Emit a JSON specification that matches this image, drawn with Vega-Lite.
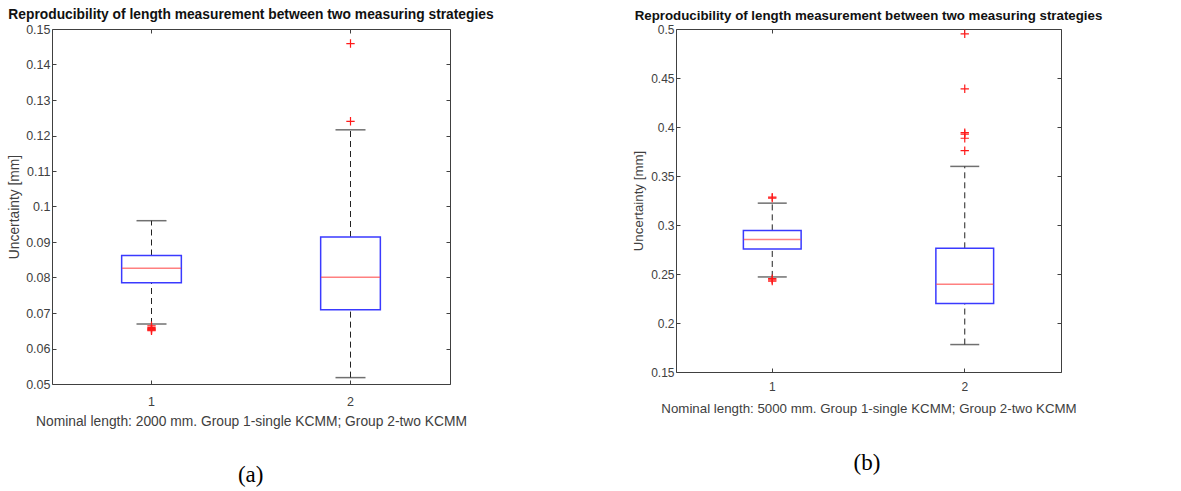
{
  "$schema": "https://vega.github.io/schema/vega-lite/v6.json",
  "background": "white",
  "padding": {"left": 7, "top": 7, "right": 5, "bottom": 5},
  "config": {
    "view": {"stroke": "#404040", "strokeWidth": 1},
    "font": "Liberation Sans",
    "axis": {"domain": false, "grid": false, "labelFont": "Liberation Sans", "labelColor": "#404040", "labelFontSize": 12.5, "titleFont": "Liberation Sans", "titleFontWeight": "normal", "titleColor": "#404040", "titleFontSize": 13.8, "tickColor": "#404040", "tickSize": -4}
  },
  "datasets": {
    "boxA": [
      {"group": "1", "lower": 0.0669, "q1": 0.0785, "median": 0.0826, "q3": 0.0862, "upper": 0.0960},
      {"group": "2", "lower": 0.0518, "q1": 0.0709, "median": 0.0801, "q3": 0.0914, "upper": 0.1216}
    ],
    "outA": [
      {"group": "1", "value": 0.0664},
      {"group": "1", "value": 0.0659},
      {"group": "1", "value": 0.0656},
      {"group": "1", "value": 0.0654},
      {"group": "1", "value": 0.0652},
      {"group": "1", "value": 0.0650},
      {"group": "2", "value": 0.1240},
      {"group": "2", "value": 0.1459}
    ],
    "boxB": [
      {"group": "1", "lower": 0.2470, "q1": 0.2755, "median": 0.2853, "q3": 0.2945, "upper": 0.3223},
      {"group": "2", "lower": 0.1780, "q1": 0.2200, "median": 0.2396, "q3": 0.2762, "upper": 0.3598}
    ],
    "outB": [
      {"group": "1", "value": 0.3285},
      {"group": "1", "value": 0.3275},
      {"group": "1", "value": 0.2452},
      {"group": "1", "value": 0.2440},
      {"group": "1", "value": 0.2427},
      {"group": "2", "value": 0.3758},
      {"group": "2", "value": 0.3885},
      {"group": "2", "value": 0.3928},
      {"group": "2", "value": 0.3942},
      {"group": "2", "value": 0.4390},
      {"group": "2", "value": 0.4950}
    ]
  },
  "spacing": 136,
  "hconcat": [
    {
      "title": {"text": "(a)", "orient": "bottom", "anchor": "middle", "font": "Liberation Serif", "fontSize": 23, "fontWeight": "normal", "color": "black", "offset": 35},
      "vconcat": [
        {
          "width": 398,
          "height": 355,
          "title": {"text": "Reproducibility of length measurement between two measuring strategies", "font": "Liberation Sans", "fontSize": 13.8, "fontWeight": "bold", "color": "#111111", "offset": 1, "anchor": "middle", "frame": "group"},
          "resolve": {"axis": {"x": "independent", "y": "independent"}},
          "layer": [
            {
              "data": {"name": "boxA"},
              "mark": {"type": "rule", "color": "#222222", "strokeDash": [6, 4], "strokeWidth": 1},
              "encoding": {
                "x": {"field": "group", "type": "nominal", "scale": {"type": "band", "paddingInner": 0.7, "paddingOuter": 0.35},
                  "axis": {"orient": "bottom", "title": "Nominal length: 2000 mm. Group 1-single KCMM; Group 2-two KCMM", "labelAngle": 0, "labelPadding": 15, "titlePadding": 7, "bandPosition": 0.5}},
                "y": {"field": "lower", "type": "quantitative", "scale": {"domain": [0.05, 0.15], "nice": false, "zero": false},
                  "axis": {"orient": "left", "title": "Uncertainty [mm]", "values": [0.05, 0.06, 0.07, 0.08, 0.09, 0.1, 0.11, 0.12, 0.13, 0.14, 0.15], "format": ".2~f", "labelPadding": 6, "titlePadding": 4}},
                "y2": {"field": "q1"}
              }
            },
            {
              "data": {"name": "boxA"},
              "mark": {"type": "rule", "color": "#222222", "strokeDash": [6, 4], "strokeWidth": 1},
              "encoding": {
                "x": {"field": "group", "type": "nominal", "axis": null},
                "y": {"field": "q3", "type": "quantitative", "axis": null},
                "y2": {"field": "upper"}
              }
            },
            {
              "data": {"name": "boxA"},
              "mark": {"type": "tick", "color": "#333333", "size": 30, "thickness": 1.5},
              "encoding": {
                "x": {"field": "group", "type": "nominal", "axis": null},
                "y": {"field": "lower", "type": "quantitative", "axis": null}
              }
            },
            {
              "data": {"name": "boxA"},
              "mark": {"type": "tick", "color": "#333333", "size": 30, "thickness": 1.5},
              "encoding": {
                "x": {"field": "group", "type": "nominal", "axis": null},
                "y": {"field": "upper", "type": "quantitative", "axis": null}
              }
            },
            {
              "data": {"name": "boxA"},
              "mark": {"type": "bar", "fill": "white", "stroke": "#3a3aff", "strokeWidth": 1.5},
              "encoding": {
                "x": {"field": "group", "type": "nominal", "axis": {"orient": "top", "labels": false, "title": null, "bandPosition": 0.5}},
                "y": {"field": "q1", "type": "quantitative", "axis": {"orient": "right", "labels": false, "title": null, "values": [0.05, 0.06, 0.07, 0.08, 0.09, 0.1, 0.11, 0.12, 0.13, 0.14, 0.15]}},
                "y2": {"field": "q3"}
              }
            },
            {
              "data": {"name": "boxA"},
              "mark": {"type": "tick", "color": "#ff4a4a", "size": 59, "thickness": 1.5},
              "encoding": {
                "x": {"field": "group", "type": "nominal", "axis": null},
                "y": {"field": "median", "type": "quantitative", "axis": null}
              }
            },
            {
              "data": {"name": "outA"},
              "mark": {"type": "point", "shape": "M-1,0L1,0M0,-1L0,1", "filled": false, "stroke": "#ff1a1a", "strokeWidth": 1.2, "size": 70, "opacity": 1},
              "encoding": {
                "x": {"field": "group", "type": "nominal", "axis": null},
                "y": {"field": "value", "type": "quantitative", "axis": null}
              }
            }
          ]
        }
      ]
    },
    {
      "title": {"text": "(b)", "orient": "bottom", "anchor": "middle", "font": "Liberation Serif", "fontSize": 23, "fontWeight": "normal", "color": "black", "offset": 37},
      "vconcat": [
        {
          "width": 385,
          "height": 343,
          "title": {"text": "Reproducibility of length measurement between two measuring strategies", "font": "Liberation Sans", "fontSize": 13.3, "fontWeight": "bold", "color": "#111111", "offset": 1, "anchor": "middle", "frame": "group"},
          "resolve": {"axis": {"x": "independent", "y": "independent"}},
          "layer": [
            {
              "data": {"name": "boxB"},
              "mark": {"type": "rule", "color": "#222222", "strokeDash": [6, 4], "strokeWidth": 1},
              "encoding": {
                "x": {"field": "group", "type": "nominal", "scale": {"type": "band", "paddingInner": 0.7, "paddingOuter": 0.35},
                  "axis": {"orient": "bottom", "title": "Nominal length: 5000 mm. Group 1-single KCMM; Group 2-two KCMM", "labelAngle": 0, "labelPadding": 13, "titlePadding": 9, "bandPosition": 0.5, "labelFontSize": 12, "titleFontSize": 13.3}},
                "y": {"field": "lower", "type": "quantitative", "scale": {"domain": [0.15, 0.5], "nice": false, "zero": false},
                  "axis": {"orient": "left", "title": "Uncertainty [mm]", "values": [0.15, 0.2, 0.25, 0.3, 0.35, 0.4, 0.45, 0.5], "format": ".2~f", "labelPadding": 6, "titlePadding": 5, "labelFontSize": 12, "titleFontSize": 13.3}},
                "y2": {"field": "q1"}
              }
            },
            {
              "data": {"name": "boxB"},
              "mark": {"type": "rule", "color": "#222222", "strokeDash": [6, 4], "strokeWidth": 1},
              "encoding": {
                "x": {"field": "group", "type": "nominal", "axis": null},
                "y": {"field": "q3", "type": "quantitative", "axis": null},
                "y2": {"field": "upper"}
              }
            },
            {
              "data": {"name": "boxB"},
              "mark": {"type": "tick", "color": "#333333", "size": 29, "thickness": 1.5},
              "encoding": {
                "x": {"field": "group", "type": "nominal", "axis": null},
                "y": {"field": "lower", "type": "quantitative", "axis": null}
              }
            },
            {
              "data": {"name": "boxB"},
              "mark": {"type": "tick", "color": "#333333", "size": 29, "thickness": 1.5},
              "encoding": {
                "x": {"field": "group", "type": "nominal", "axis": null},
                "y": {"field": "upper", "type": "quantitative", "axis": null}
              }
            },
            {
              "data": {"name": "boxB"},
              "mark": {"type": "bar", "fill": "white", "stroke": "#3a3aff", "strokeWidth": 1.5},
              "encoding": {
                "x": {"field": "group", "type": "nominal", "axis": {"orient": "top", "labels": false, "title": null, "bandPosition": 0.5}},
                "y": {"field": "q1", "type": "quantitative", "axis": {"orient": "right", "labels": false, "title": null, "values": [0.15, 0.2, 0.25, 0.3, 0.35, 0.4, 0.45, 0.5]}},
                "y2": {"field": "q3"}
              }
            },
            {
              "data": {"name": "boxB"},
              "mark": {"type": "tick", "color": "#ff4a4a", "size": 57, "thickness": 1.5},
              "encoding": {
                "x": {"field": "group", "type": "nominal", "axis": null},
                "y": {"field": "median", "type": "quantitative", "axis": null}
              }
            },
            {
              "data": {"name": "outB"},
              "mark": {"type": "point", "shape": "M-1,0L1,0M0,-1L0,1", "filled": false, "stroke": "#ff1a1a", "strokeWidth": 1.2, "size": 70, "opacity": 1},
              "encoding": {
                "x": {"field": "group", "type": "nominal", "axis": null},
                "y": {"field": "value", "type": "quantitative", "axis": null}
              }
            }
          ]
        }
      ]
    }
  ]
}
